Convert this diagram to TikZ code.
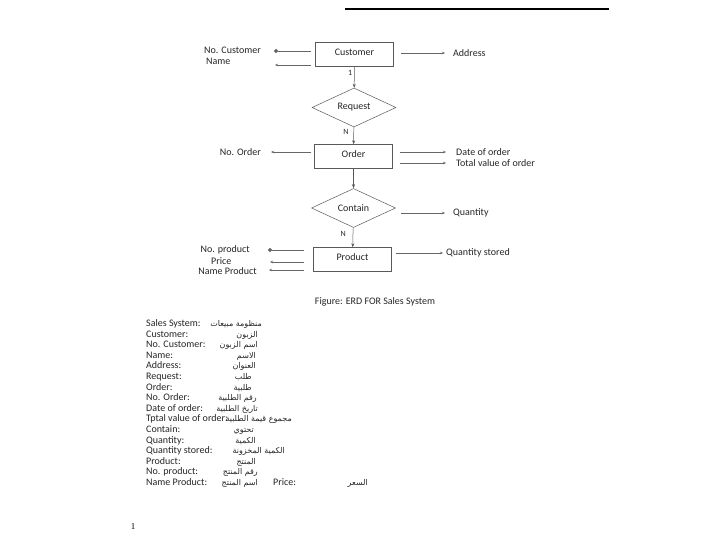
\documentclass[tikz,border=0pt]{standalone}
\usepackage{fontspec}
\setmainfont{Carlito}
\newfontfamily\arabicfont[Script=Arabic]{DejaVu Sans}
\newfontfamily\pagefont{Liberation Serif}
\TeXXeTstate=1
\usetikzlibrary{arrows.meta,shapes.geometric,positioning}
\tikzset{
  txt/.style={font=\fontsize{10}{11}\selectfont, text=black!85, inner sep=1pt},
  entity/.style={txt, draw=black!65, line width=0.5pt, minimum width=78, minimum height=24, text depth=5pt},
  rel/.style={txt, draw=black!65, line width=0.5pt, diamond, aspect=2.1, minimum width=84, minimum height=39, inner sep=0pt},
  link/.style={draw=black!60, line width=0.5pt, -{Stealth[length=3pt,width=2.5pt]}},
  keylink/.style={draw=black!60, line width=0.5pt, -{Circle[length=4pt]}},
  down/.style={draw=black!65, line width=0.5pt, -{Stealth[length=4pt,width=3pt]}},
  card/.style={font=\fontsize{8}{9}\selectfont, text=black!85, inner sep=1pt},
  arab/.style={font=\fontsize{8}{9}\arabicfont, text=black!85, inner sep=0pt},
}
\begin{document}
\begin{tikzpicture}[x=1pt,y=-1pt]
\useasboundingbox[fill=white] (0,0) rectangle (720,540);
% rule at the top
\draw[line width=1.2pt] (345,9)--(609,9);

% entities and relations
\node[entity] (cust) at (354.5,54.5) {Customer};
\node[rel] (req) at (354,107.5) {Request};
\node[entity] (order) at (353.5,156.5) {Order};
\node[rel] (cont) at (353.5,208) {Contain};
\node[entity] (prod) at (352.5,259.5) {Product};

\draw[down] (cust) -- (req) node[card,pos=0.3,left=1pt] {1};
\draw[down] (req) -- (order) node[card,pos=0.3,left=4pt] {N};
\draw[down] (order) -- (cont);
\draw[down] (cont) -- (prod) node[card,pos=0.3,left=6pt] {N};

% attributes
\node[txt,anchor=east] (ncust) at (262,50) {No. Customer};
\node[txt,anchor=west] (cname) at (205,61) {Name};
\coordinate (cnametip) at (275,65);
\node[txt,anchor=west] (addr) at (452,53) {Address};
\node[txt,anchor=east] (nord) at (262,152) {No. Order};
\node[txt,anchor=west] (dord) at (455,152) {Date of order};
\node[txt,anchor=west] (tord) at (455,163) {Total value of order};
\node[txt,anchor=west] (qty) at (452,213) {Quantity};
\node[txt,anchor=east] (nprod) at (251,250) {No. product};
\node[txt,anchor=west] (price) at (210,261) {Price};
\coordinate (pricetip) at (270,262);
\node[txt,anchor=east] (pname) at (258,271) {Name Product};
\node[txt,anchor=west] (qst) at (445,253) {Quantity stored};

\draw[keylink,shorten <=4pt,shorten >=12pt] (cust.west|-0,51) -- (ncust.east|-0,51);
\draw[link,shorten <=4pt] (cust.west|-cnametip) -- (cnametip);
\draw[link,shorten <=7pt,shorten >=7pt] (cust.east|-addr) -- (addr.west);
\draw[link,shorten <=3pt,shorten >=9pt] (order.west|-nord) -- (nord.east);
\draw[link,shorten <=7pt,shorten >=9pt] (order.east|-dord) -- (dord.west);
\draw[link,shorten <=7pt,shorten >=9pt] (order.east|-tord) -- (tord.west);
\draw[link,shorten <=5pt,shorten >=7pt] (cont.east|-qty) -- (qty.west);
\draw[link,shorten <=4pt,shorten >=2pt] (prod.east|-qst) -- (qst.west);
\draw[keylink,shorten <=9pt,shorten >=17pt] (prod.west|-nprod) -- (nprod.east);
\draw[link,shorten <=9pt] (prod.west|-pricetip) -- (pricetip);
\draw[link,shorten <=9pt,shorten >=11pt] (prod.west|-0,270) -- (pname.east|-0,270);

\node[txt] (caption) at (375,302) {Figure: ERD FOR Sales System};

% glossary
\foreach \lab/\ar/\ax [count=\i from 0] in {
  Sales System:/منظومة مبيعات/262,
  Customer:/الزبون/258,
  No. Customer:/اسم الزبون/258,
  Name:/الاسم/256,
  Address:/العنوان/256,
  Request:/طلب/252,
  Order:/طلبية/252,
  No. Order:/رقم الطلبية/257,
  Date of order:/تاريخ الطلبية/258,
  Tptal value of order:/مجموع قيمة الطلبية/292,
  Contain:/تحتوي/254,
  Quantity:/الكمية/256,
  Quantity stored:/الكمية المخزونة/285,
  Product:/المنتج/256,
  No. product:/رقم المنتج/258,
  Name Product:/اسم المنتج/258}{
  \node[txt,anchor=base west] (g\i) at (145,{326.5+10.6*\i}) {\lab};
  \node[arab,anchor=base east] (a\i) at (\ax,{326.5+10.6*\i}) {\beginR\ar\endR};
}
\node[txt,anchor=base west] (gprice) at (272,485.5) {Price:};
\node[arab,anchor=base east] (aprice) at (368,485.5) {\beginR السعر\endR};

\node[font=\pagefont\fontsize{9}{10}\selectfont] (pagenum) at (133,527) {1};
\end{tikzpicture}
\end{document}
